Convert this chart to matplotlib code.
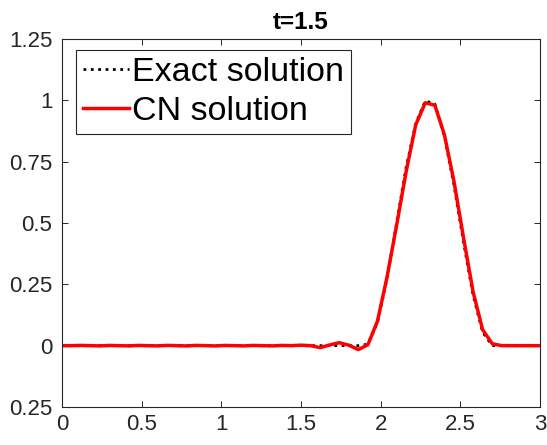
import matplotlib
matplotlib.use("Agg")
import matplotlib.pyplot as plt

plt.rcParams['font.family'] = ['Liberation Sans', 'DejaVu Sans']

# grid (dx = 0.06)
x = [0.00, 0.06, 0.12, 0.18, 0.24, 0.30, 0.36, 0.42, 0.48, 0.54,
     0.60, 0.66, 0.72, 0.78, 0.84, 0.90, 0.96, 1.02, 1.08, 1.14,
     1.20, 1.26, 1.32, 1.38, 1.44, 1.50, 1.56, 1.62, 1.68, 1.74,
     1.80, 1.86, 1.92, 1.98, 2.04, 2.10, 2.16, 2.22, 2.28, 2.34,
     2.40, 2.46, 2.52, 2.58, 2.64, 2.70, 2.76, 2.82, 2.88, 2.94, 3.00]

exact = [0, 0, 0, 0, 0, 0, 0, 0, 0, 0,
         0, 0, 0, 0, 0, 0, 0, 0, 0, 0,
         0, 0, 0, 0, 0, 0, 0, 0, 0, 0,
         0, 0, 0.006, 0.095, 0.273, 0.50, 0.727, 0.905, 0.998, 0.985,
         0.854, 0.655, 0.422, 0.206, 0.055, 0.0, 0, 0, 0, 0, 0]

cn = [0.000, 0.000, 0.001, 0.000, -0.001, 0.001, 0.000, -0.001, 0.001, 0.000,
      -0.001, 0.001, 0.000, -0.001, 0.001, 0.000, -0.001, 0.001, 0.000, -0.001,
      0.001, 0.000, -0.001, 0.001, 0.000, 0.002, 0.000, -0.008, 0.003, 0.012,
      0.002, -0.016, 0.004, 0.100, 0.280, 0.490, 0.710, 0.900, 0.990, 0.980,
      0.860, 0.670, 0.440, 0.220, 0.065, 0.008, 0.000, 0.000, 0.000, 0.000, 0.000]

xticks = [0, 0.5, 1, 1.5, 2, 2.5, 3]
xticklabels = ["0", "0.5", "1", "1.5", "2", "2.5", "3"]
yticks = [-0.25, 0, 0.25, 0.5, 0.75, 1, 1.25]
yticklabels = ["0.25", "0", "0.25", "0.5", "0.75", "1", "1.25"]

fig = plt.figure(figsize=(5.47, 4.45), dpi=100)
ax = fig.add_axes([62/547, 1-407/445, (540-62)/547, (407-39)/445])

ax.plot(x, exact, color='black', linestyle=':', linewidth=2.0, label='Exact solution')
ax.plot(x, cn, color='#ff0000', linestyle='-', linewidth=2.5, label='CN solution')

ax.set_xlim(0, 3)
ax.set_ylim(-0.25, 1.25)
ax.set_xticks(xticks)
ax.set_xticklabels(xticklabels)
ax.set_yticks(yticks)
ax.set_yticklabels(yticklabels)
ax.tick_params(direction='in', length=4, width=0.7, colors='#262626',
               labelsize=16, top=True, right=True, labelcolor='#262626')
ax.tick_params(axis='y', pad=7)
ax.tick_params(axis='x', pad=5)
for s in ax.spines.values():
    s.set_color('#262626')
    s.set_linewidth(0.8)

ax.set_title('t=1.5', fontsize=17.5, fontweight='bold', pad=7)

leg = ax.legend(loc='upper left', bbox_to_anchor=(14/478, 1-11/368),
                borderaxespad=0, fontsize=24.5, frameon=True, fancybox=False,
                handlelength=1.35, handletextpad=0.1, labelspacing=0.25,
                borderpad=0.2, framealpha=1)
leg.get_frame().set_edgecolor('#262626')
leg.get_frame().set_linewidth(0.8)

fig.savefig('out.png', dpi=100)
